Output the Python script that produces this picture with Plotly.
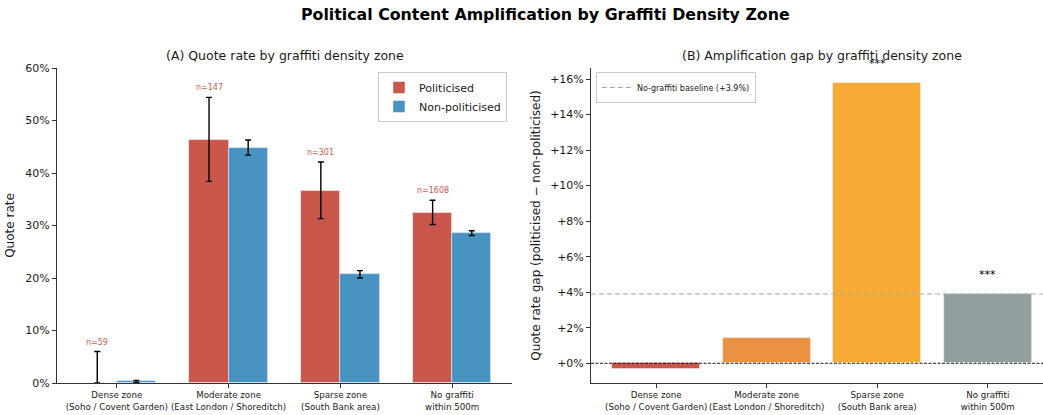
import plotly.graph_objects as go

# Zones and measured quote rates (percent)
zones = [
    "Dense zone<br>(Soho / Covent Garden)",
    "Moderate zone<br>(East London / Shoreditch)",
    "Sparse zone<br>(South Bank area)",
    "No graffiti<br>within 500m",
]
n_politicised = [59, 147, 301, 1608]

pol_rate = [0.0, 46.2, 36.5, 32.4]
pol_ci_low = [0.0, 38.4, 31.3, 30.2]
pol_ci_high = [6.0, 54.4, 42.1, 34.8]

nonpol_rate = [0.3, 44.8, 20.7, 28.5]
nonpol_ci_low = [0.1, 43.4, 20.0, 28.1]
nonpol_ci_high = [0.5, 46.3, 21.4, 29.0]

gap_colors = ["#c9574b", "#ea9143", "#f5ab36", "#929d9e"]
sig_marks = ["", "", "***", "***"]
baseline_gap = 3.9

left_ticks = [0, 10, 20, 30, 40, 50, 60]
right_ticks = [0, 2, 4, 6, 8, 10, 12, 14, 16]

RED = "#c9574b"
BLUE = "#4993c3"
FONT = "DejaVu Sans"
AXC = "#333333"

W, H = 1043, 415
idx = list(range(len(zones)))
gaps = [round(p - q, 1) for p, q in zip(pol_rate, nonpol_rate)]
bw = 0.35

fig = go.Figure()

# Panel A: grouped bars with confidence intervals
fig.add_trace(go.Bar(
    x=[i - bw / 2 for i in idx], y=pol_rate, width=bw,
    marker=dict(color=RED, line=dict(color="rgba(255,255,255,0.6)", width=0.8)),
    name="Politicised", xaxis="x", yaxis="y", legend="legend",
    error_y=dict(type="data", symmetric=False,
                 array=[h - v for h, v in zip(pol_ci_high, pol_rate)],
                 arrayminus=[v - l for l, v in zip(pol_ci_low, pol_rate)],
                 color="black", thickness=1.4, width=3),
))
fig.add_trace(go.Bar(
    x=[i + bw / 2 for i in idx], y=nonpol_rate, width=bw,
    marker=dict(color=BLUE, line=dict(color="rgba(255,255,255,0.6)", width=0.8)),
    name="Non-politicised", xaxis="x", yaxis="y", legend="legend",
    error_y=dict(type="data", symmetric=False,
                 array=[h - v for h, v in zip(nonpol_ci_high, nonpol_rate)],
                 arrayminus=[v - l for l, v in zip(nonpol_ci_low, nonpol_rate)],
                 color="black", thickness=1.4, width=3),
))

# Panel B: gap bars
fig.add_trace(go.Bar(
    x=idx, y=gaps, width=0.8,
    marker=dict(color=gap_colors, line=dict(color="rgba(255,255,255,0.6)", width=0.8)),
    showlegend=False, xaxis="x2", yaxis="y2",
))
# Legend entry for the baseline line
fig.add_trace(go.Scatter(
    x=[None], y=[None], mode="lines",
    line=dict(color="#aaaaaa", width=1.2, dash="5px,3px"),
    name=f"No-graffiti baseline (+{baseline_gap}%)",
    xaxis="x2", yaxis="y2", legend="legend2",
))

annotations = []
for i, n, hi in zip(idx, n_politicised, pol_ci_high):
    annotations.append(dict(
        x=i - bw / 2, y=hi, xref="x", yref="y", text=f"n={n}",
        showarrow=False, yanchor="bottom", yshift=3,
        font=dict(family=FONT, size=8, color="#d0584c"),
    ))
for i, g, s in zip(idx, gaps, sig_marks):
    if s:
        annotations.append(dict(
            x=i, y=g, xref="x2", yref="y2", text=s,
            showarrow=False, yanchor="bottom", yshift=11,
            font=dict(family=FONT, size=11, color="black"),
        ))

annotations += [
    dict(x=545 / W, y=1 - 14 / H, xref="paper", yref="paper",
         text="<b>Political Content Amplification by Graffiti Density Zone</b>",
         showarrow=False, xanchor="center", yanchor="middle",
         font=dict(family=FONT, size=15.8, color="black")),
    dict(x=284.5 / W, y=1 - 56 / H, xref="paper", yref="paper",
         text="(A) Quote rate by graffiti density zone",
         showarrow=False, xanchor="center", yanchor="middle",
         font=dict(family=FONT, size=12.5, color="#1a1a1a")),
    dict(x=822 / W, y=1 - 56 / H, xref="paper", yref="paper",
         text="(B) Amplification gap by graffiti density zone",
         showarrow=False, xanchor="center", yanchor="middle",
         font=dict(family=FONT, size=12.5, color="#1a1a1a")),
]

shapes = [
    dict(type="line", xref="x2 domain", yref="y2", x0=0, x1=1,
         y0=baseline_gap, y1=baseline_gap,
         line=dict(color="#aaaaaa", width=1.2, dash="5px,3px"), layer="above"),
    dict(type="line", xref="x2 domain", yref="y2", x0=0, x1=1, y0=0, y1=0,
         line=dict(color="black", width=0.9, dash="3px,1.5px"), layer="above"),
]

axis_common = dict(
    showgrid=False, zeroline=False, showline=True, linecolor=AXC, linewidth=1,
    ticks="outside", ticklen=4, tickcolor=AXC, tickwidth=1, automargin=False,
)

fig.update_layout(
    width=W, height=H,
    margin=dict(l=0, r=0, t=0, b=0, autoexpand=False),
    paper_bgcolor="white", plot_bgcolor="white",
    barmode="overlay", bargap=0,
    font=dict(family=FONT, color="#1a1a1a"),
    xaxis=dict(domain=[57 / W, 512 / W], range=[-0.535, 3.535],
               tickvals=idx, ticktext=zones, tickangle=0,
               tickfont=dict(family=FONT, size=8.7, color="#1a1a1a"),
               anchor="y", **axis_common),
    yaxis=dict(domain=[1 - 383 / H, 1 - 68 / H], range=[0, 60],
               tickvals=left_ticks, ticktext=[f"{v}%" for v in left_ticks],
               tickfont=dict(family=FONT, size=11, color="#1a1a1a"),
               title=dict(text="Quote rate", font=dict(family=FONT, size=12), standoff=8),
               anchor="x", **axis_common),
    xaxis2=dict(domain=[591 / W, 1.0], range=[-0.59, 3.50],
                tickvals=idx, ticktext=zones, tickangle=0,
                tickfont=dict(family=FONT, size=8.7, color="#1a1a1a"),
                anchor="y2", **axis_common),
    yaxis2=dict(domain=[1 - 383 / H, 1 - 68 / H], range=[-1.11, 16.62],
                tickvals=right_ticks, ticktext=[f"+{v}%" for v in right_ticks],
                tickfont=dict(family=FONT, size=11, color="#1a1a1a"),
                title=dict(text="Quote rate gap (politicised \u2212 non-politicised)",
                           font=dict(family=FONT, size=12), standoff=6),
                anchor="x2", **axis_common),
    legend=dict(x=507 / W, y=1 - 72 / H, xanchor="right", yanchor="top",
                bgcolor="white", bordercolor="#cccccc", borderwidth=1,
                font=dict(family=FONT, size=11, color="#1a1a1a"),
                itemwidth=30, tracegroupgap=0),
    legend2=dict(x=596 / W, y=1 - 72 / H, xanchor="left", yanchor="top",
                 bgcolor="white", bordercolor="#cccccc", borderwidth=1,
                 font=dict(family=FONT, size=8, color="#1a1a1a"),
                 itemwidth=30),
    annotations=annotations,
    shapes=shapes,
)

fig.write_html("out.html")
